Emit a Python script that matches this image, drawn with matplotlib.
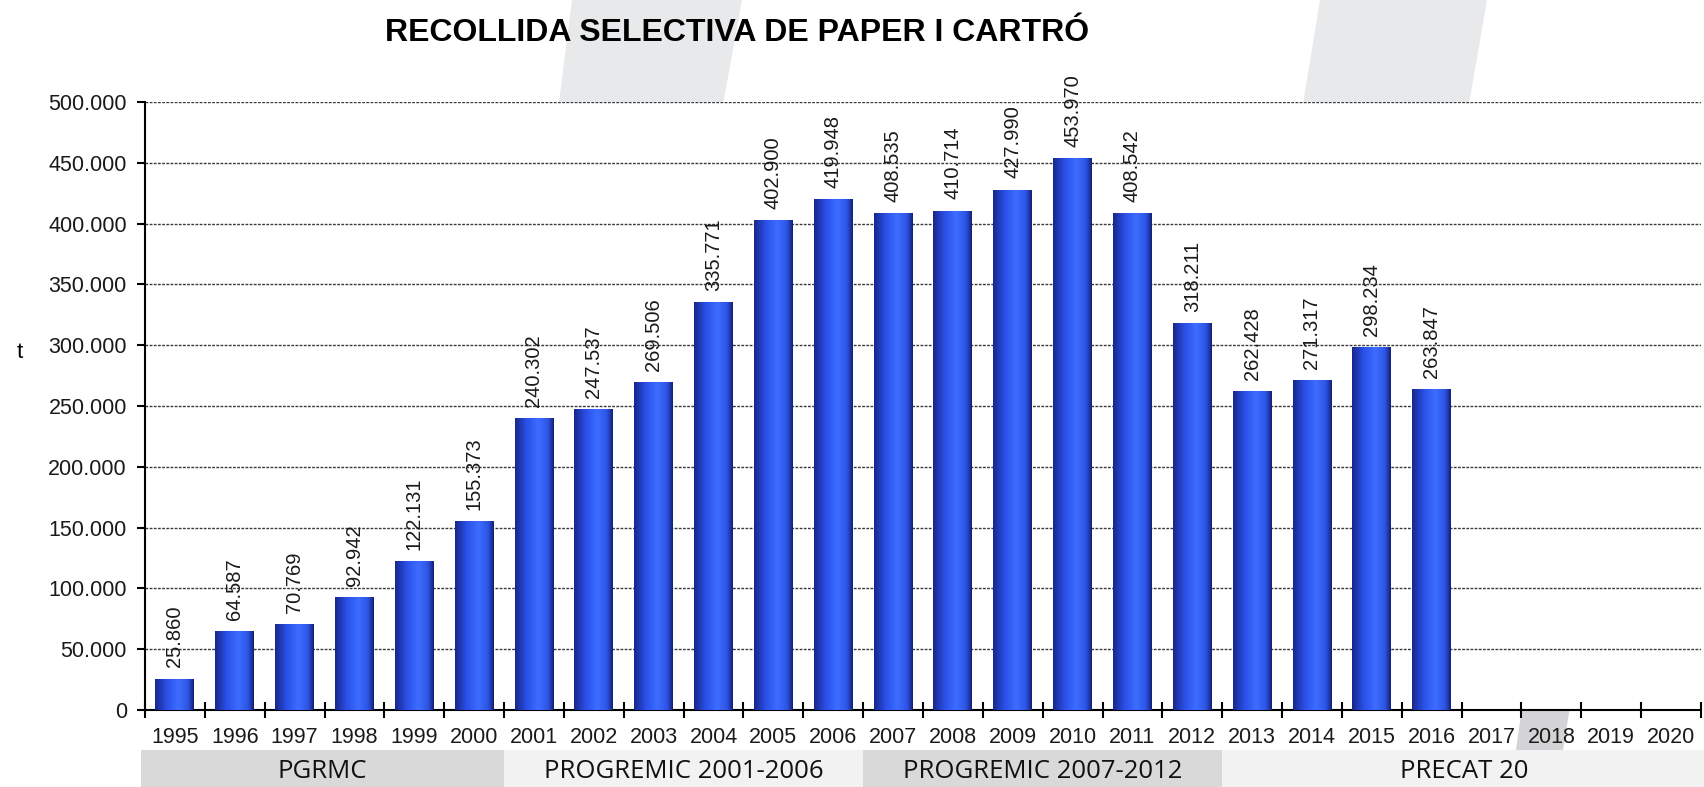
import numpy as np
import matplotlib
matplotlib.use("Agg")
import matplotlib.pyplot as plt
from matplotlib.colors import LinearSegmentedColormap
from matplotlib.patches import Polygon, Rectangle
import matplotlib.transforms as mtransforms

# ---------------------------------- data ----------------------------------
years = [str(y) for y in range(1995, 2021)]
values = [25860, 64587, 70769, 92942, 122131, 155373, 240302, 247537, 269506,
          335771, 402900, 419948, 408535, 410714, 427990, 453970, 408542,
          318211, 262428, 271317, 298234, 263847]

plan_names = ["PGRMC", "PROGREMIC 2001-2006", "PROGREMIC 2007-2012", "PRECAT 20"]
plan_first_year = [1995, 2001, 2007, 2013]
plan_last_year = [2000, 2006, 2012, 2020]
plan_colors = ["#d9d9d9", "#f2f2f2", "#d9d9d9", "#f2f2f2"]

yticks = [0, 50000, 100000, 150000, 200000, 250000, 300000, 350000, 400000, 450000, 500000]


def fmt_thousands(v):
    return f"{v:,.0f}".replace(",", ".")


plt.rcParams['font.family'] = ['Liberation Sans', 'DejaVu Sans']

W, H = 1704, 787
fig = plt.figure(figsize=(W / 100, H / 100), dpi=100)
fig.patch.set_facecolor("white")

# faint background watermark shapes (pixel coords from top-left)
def fig_poly(pts, color):
    p = Polygon([(x / W, 1 - y / H) for x, y in pts], closed=True,
                transform=fig.transFigure, facecolor=color, edgecolor="none", zorder=-5)
    fig.patches.append(p)

fig_poly([(572, 0), (742, 0), (722, 110), (558, 110)], "#e8e9eb")
fig_poly([(1320, 0), (1487, 0), (1468, 110), (1302, 110)], "#e8e9eb")
fig_poly([(1522, 707), (1570, 707), (1563, 750), (1516, 750)], "#d4d4d6")

ax = fig.add_axes([145 / W, 1 - 710 / H, 1556 / W, (710 - 102) / H])
ax.set_facecolor("white")

x = np.arange(len(years))
bar_x = x[:len(values)]

bars = ax.bar(bar_x, values, width=0.65, color="#2b4de0", zorder=3, linewidth=0)

# horizontal shading inside each bar
grad_cmap = LinearSegmentedColormap.from_list(
    "bar", [(0.0, "#18268a"), (0.3, "#2a50e8"), (0.6, "#3d6dff"),
            (0.85, "#2c54e4"), (1.0, "#141e74")])
gradient = np.linspace(0, 1, 256).reshape(1, -1)
for b in bars:
    x0, y0 = b.get_x(), b.get_y()
    im = ax.imshow(gradient, extent=[x0, x0 + b.get_width(), y0, y0 + b.get_height()],
                   aspect="auto", cmap=grad_cmap, zorder=3.1, interpolation="bilinear")
    im.set_clip_path(b)

# value labels
for xi, v in zip(bar_x, values):
    ax.annotate(fmt_thousands(v), (xi, v), xytext=(0, 8), textcoords="offset points",
                rotation=90, ha="center", va="bottom", fontsize=14.5, color="#1a1a1a",
                zorder=5)

ax.set_xlim(-0.5, len(years) - 0.5)
ax.set_ylim(0, 500000)

ax.set_yticks(yticks)
ax.set_yticklabels([fmt_thousands(v) for v in yticks], fontsize=15.5, color="#1a1a1a")
ax.yaxis.grid(True, color="#3a3a3a", linestyle=(0, (2, 1)), linewidth=1.0, zorder=0)
ax.set_axisbelow(True)

# x ticks at category boundaries, labels at centers
ax.set_xticks(np.arange(-0.5, len(years), 1.0))
ax.set_xticklabels([])
ax.set_xticks(x, minor=True)
ax.set_xticklabels(years, minor=True, fontsize=15.5, color="#1a1a1a")
ax.tick_params(axis="x", which="major", direction="inout", length=12, width=1.5)
ax.tick_params(axis="x", which="minor", length=0, pad=12)
ax.tick_params(axis="y", direction="out", length=6, width=1.5, pad=7)

for side in ["top", "right"]:
    ax.spines[side].set_visible(False)
ax.spines["left"].set_linewidth(1.5)
ax.spines["bottom"].set_linewidth(1.5)

# y label
fig.text(20 / W, 1 - 353 / H, "t", fontsize=16, ha="center", va="center")

# title
fig.text(737 / W, 1 - 33 / H, "RECOLLIDA SELECTIVA DE PAPER I CARTRÓ",
         fontsize=23, fontweight="bold", ha="center", va="center")

# plan bands under the year labels
trans = mtransforms.blended_transform_factory(ax.transData, fig.transFigure)
band_y0 = 1 - 787 / H
band_h = (787 - 750) / H
for name, y_first, y_last, c in zip(plan_names, plan_first_year, plan_last_year, plan_colors):
    i0 = years.index(str(y_first)) - 0.5
    i1 = years.index(str(y_last)) + 0.5
    if y_first == 1995:
        i0 -= 0.07
    if y_last == 2020:
        i1 += 0.1
    fig.patches.append(Rectangle((i0, band_y0), i1 - i0, band_h, transform=trans,
                                 facecolor=c, edgecolor="none", zorder=-1))
    fig.text((i0 + i1) / 2, 1 - 772 / H, name, transform=trans, ha="center",
             va="center", fontsize=18.5, family=["Open Sans", "DejaVu Sans"],
             color="#111111")

fig.savefig("out.png", dpi=100)
